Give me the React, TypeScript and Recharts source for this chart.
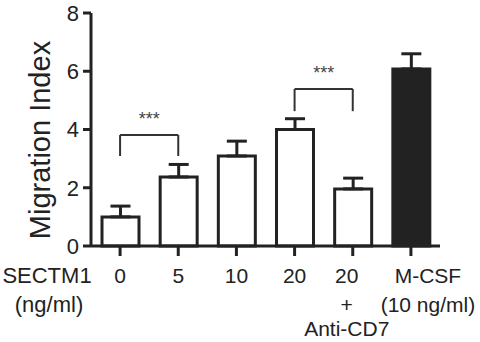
import { BarChart, Bar, XAxis, YAxis, ErrorBar, Cell, ReferenceLine, Label } from 'recharts';

const groups = ['0', '5', '10', '20', '20+Anti-CD7', 'M-CSF'];
const tickLines = [['0'], ['5'], ['10'], ['20'], ['20', '+', 'Anti-CD7'], ['M-CSF', '(10 ng/ml)']];
const means = [1.0, 2.37, 3.09, 4.0, 1.96, 6.08];
const sems = [0.37, 0.43, 0.51, 0.37, 0.37, 0.52];
const yTicks = [0, 2, 4, 6, 8];

// significance brackets: [from, to, top, leg bottom]
const brackets: [string, string, number, number][] = [
  ['0', '5', 3.81, 3.09],
  ['20', '20+Anti-CD7', 5.39, 4.63],
];

const INK = "#222";
const FONT = "'Liberation Sans', Arial, sans-serif";

// small horizontal nudges of the tick text, as in the original figure
const labelNudge: Record<string, number> = { '20+Anti-CD7': -6, 'M-CSF': 17 };

const data = groups.map((g, i) => ({ group: g, value: means[i], err: [0, sems[i]] }));

const XTick = (props: any) => {
  const { x, y, payload } = props;
  const lines = tickLines[groups.indexOf(payload.value)] || [payload.value];
  const offsets = [27, 56, 80];
  const cx = x + (labelNudge[payload.value] || 0);
  return (
    <g>
      {lines.map((l, i) => (
        <text key={i} x={cx} y={y + offsets[i]} textAnchor="middle" fill={INK} fontSize={21} fontFamily={FONT}>
          {l}
        </text>
      ))}
    </g>
  );
};

export default function App() {
  return (
    <div style={{ position: 'absolute', left: 0, top: 0, width: 480, height: 342, background: '#fff' }}>
      <BarChart
        width={480}
        height={342}
        data={data}
        margin={{ top: 13, right: 40, left: 0, bottom: 0 }}
        barCategoryGap={0}
      >
        <XAxis
          dataKey="group"
          height={96}
          interval={0}
          stroke={INK}
          strokeWidth={3}
          tickSize={10}
          tickMargin={0}
          tickLine={{ stroke: INK, strokeWidth: 3 }}
          tick={<XTick />}
        >
          <Label
            content={(p: any) => {
              const vb = p.viewBox;
              return (
                <g fill={INK} fontSize={22} fontFamily={FONT} textAnchor="middle">
                  <text x={vb.x - 44} y={vb.y + 37}>SECTM1</text>
                  <text x={vb.x - 42} y={vb.y + 66}>(ng/ml)</text>
                </g>
              );
            }}
          />
        </XAxis>
        <YAxis
          width={91}
          domain={[0, 8]}
          ticks={yTicks}
          stroke={INK}
          strokeWidth={3}
          tickSize={8}
          tickMargin={4}
          tickLine={{ stroke: INK, strokeWidth: 3 }}
          tick={{ fill: INK, fontSize: 22, fontFamily: FONT }}
        >
          <Label
            content={(p: any) => {
              const vb = p.viewBox;
              const x = vb.x + 50;
              const y = 140;
              return (
                <text x={x} y={y} transform={`rotate(-90 ${x} ${y})`} textAnchor="middle" fill={INK} fontSize={29} fontFamily={FONT}>
                  Migration Index
                </text>
              );
            }}
          />
        </YAxis>
        <Bar dataKey="value" barSize={37} stroke={INK} strokeWidth={3} isAnimationActive={false}>
          {data.map((d, i) => (
            <Cell key={i} fill={d.group === 'M-CSF' ? INK : '#fff'} />
          ))}
          <ErrorBar dataKey="err" width={10} stroke={INK} strokeWidth={3} direction="y" />
        </Bar>
        {brackets.map(([a, b, top, bottom], i) => [
          <ReferenceLine
            key={`t${i}`}
            segment={[{ x: a, y: top }, { x: b, y: top }]}
            stroke="#333"
            strokeWidth={2}
            label={{ value: '***', position: 'top', offset: 10, fill: '#444', fontSize: 18, fontFamily: FONT }}
          />,
          <ReferenceLine key={`l${i}`} segment={[{ x: a, y: bottom }, { x: a, y: top }]} stroke="#333" strokeWidth={2} />,
          <ReferenceLine key={`r${i}`} segment={[{ x: b, y: bottom }, { x: b, y: top }]} stroke="#333" strokeWidth={2} />,
        ])}
      </BarChart>
    </div>
  );
}
